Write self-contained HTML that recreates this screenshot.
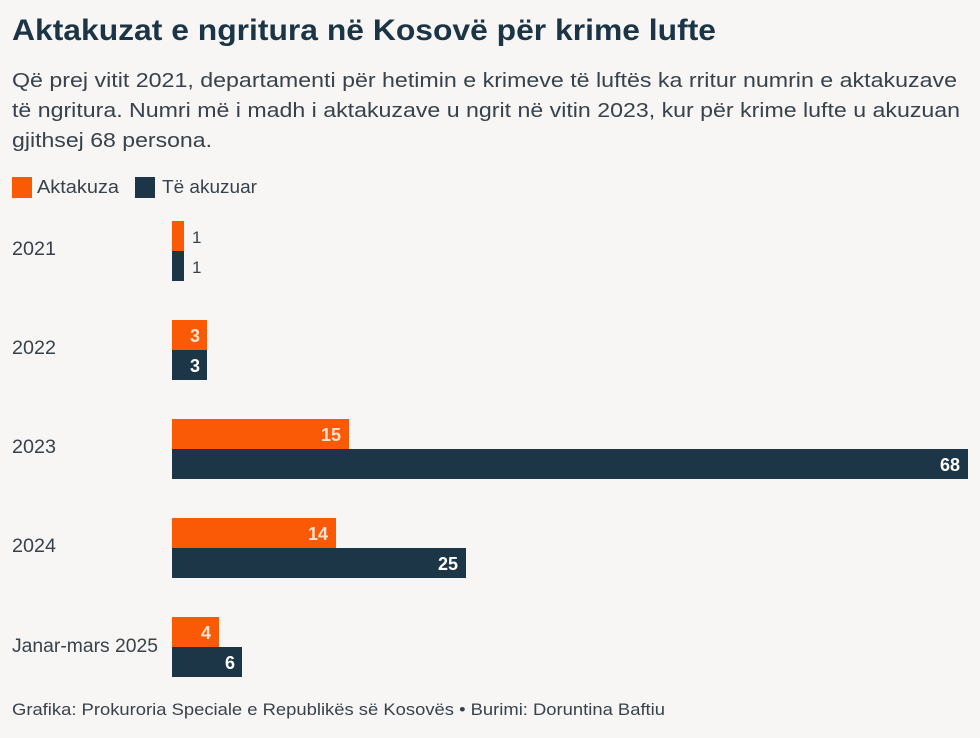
<!DOCTYPE html>
<html><head><meta charset="utf-8"><style>
html,body{margin:0;padding:0;background:#f7f6f4;}
svg{display:block;}
text{font-family:"Liberation Sans",sans-serif;}
</style></head><body>
<svg width="980" height="738" viewBox="0 0 980 738" xmlns="http://www.w3.org/2000/svg">
<rect width="980" height="738" fill="#f7f6f4"/>
<text x="12" y="40" font-size="30" font-weight="bold" fill="#1b3546" textLength="704" lengthAdjust="spacingAndGlyphs">Aktakuzat e ngritura në Kosovë për krime lufte</text>
<g fill="#37424c" font-size="20">
<text x="12" y="87" textLength="945" lengthAdjust="spacingAndGlyphs">Që prej vitit 2021, departamenti për hetimin e krimeve të luftës ka rritur numrin e aktakuzave</text>
<text x="12" y="117" textLength="948" lengthAdjust="spacingAndGlyphs">të ngritura. Numri më i madh i aktakuzave u ngrit në vitin 2023, kur për krime lufte u akuzuan</text>
<text x="12" y="147" textLength="200" lengthAdjust="spacingAndGlyphs">gjithsej 68 persona.</text>
</g>
<rect x="12" y="177" width="20" height="21" fill="#fa5a05"/>
<text x="37" y="193" font-size="18" fill="#37424c" textLength="82" lengthAdjust="spacingAndGlyphs">Aktakuza</text>
<rect x="135" y="177" width="20" height="21" fill="#1c3647"/>
<text x="162" y="193" font-size="18" fill="#37424c" textLength="95" lengthAdjust="spacingAndGlyphs">Të akuzuar</text>

<g font-size="19" fill="#37424c">
<text x="12" y="255" textLength="44" lengthAdjust="spacingAndGlyphs">2021</text>
<text x="12" y="354" textLength="44" lengthAdjust="spacingAndGlyphs">2022</text>
<text x="12" y="453" textLength="44" lengthAdjust="spacingAndGlyphs">2023</text>
<text x="12" y="552" textLength="44" lengthAdjust="spacingAndGlyphs">2024</text>
<text x="12" y="652" textLength="146" lengthAdjust="spacingAndGlyphs">Janar-mars 2025</text>
</g>

<rect x="172" y="221" width="12" height="30" fill="#fa5a05"/>
<rect x="172" y="251" width="12" height="30" fill="#1c3647"/>
<text x="192" y="243" font-size="17" fill="#37424c">1</text>
<text x="192" y="273" font-size="17" fill="#37424c">1</text>

<rect x="172" y="320" width="35" height="30" fill="#fa5a05"/>
<rect x="172" y="350" width="35" height="30" fill="#1c3647"/>

<rect x="172" y="419" width="177" height="30" fill="#fa5a05"/>
<rect x="172" y="449" width="796" height="30" fill="#1c3647"/>

<rect x="172" y="518" width="164" height="30" fill="#fa5a05"/>
<rect x="172" y="548" width="294" height="30" fill="#1c3647"/>

<rect x="172" y="617" width="47" height="30" fill="#fa5a05"/>
<rect x="172" y="647" width="70" height="30" fill="#1c3647"/>

<g font-size="18" font-weight="bold" text-anchor="end">
<text x="200" y="342" fill="#fde3cf">3</text>
<text x="200" y="372" fill="#ffffff">3</text>
<text x="341" y="441" fill="#fde3cf">15</text>
<text x="960" y="471" fill="#ffffff">68</text>
<text x="328" y="540" fill="#fde3cf">14</text>
<text x="458" y="570" fill="#ffffff">25</text>
<text x="211" y="639" fill="#fde3cf">4</text>
<text x="235" y="669" fill="#ffffff">6</text>
</g>

<text x="12" y="715" font-size="17" fill="#37424c" textLength="653" lengthAdjust="spacingAndGlyphs">Grafika: Prokuroria Speciale e Republikës së Kosovës • Burimi: Doruntina Baftiu</text>
</svg>
</body></html>
